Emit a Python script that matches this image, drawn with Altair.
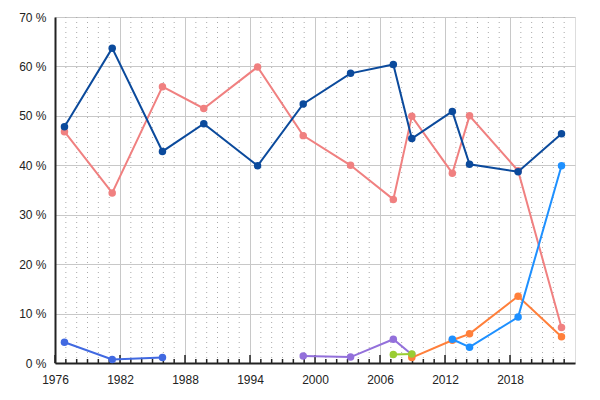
import altair as alt
import pandas as pd

dates = ["1976-11-15", "1981-04-13", "1985-12-02", "1989-09-25", "1994-09-12",
         "1998-11-30", "2003-04-14", "2007-03-26", "2008-12-08", "2012-09-04",
         "2014-04-07", "2018-10-01", "2022-10-03"]

pink_vals = [46.8, 34.4, 55.9, 51.5, 59.9, 46.0, 40.0, 33.1, 49.9, 38.4, 50.0, 38.9, 7.2]
navy_vals = [47.8, 63.7, 42.8, 48.4, 39.9, 52.4, 58.6, 60.4, 45.4, 50.9, 40.2, 38.7, 46.4]
royal_dates = ["1976-11-15", "1981-04-13", "1985-12-02"]
royal_vals = [4.2, 0.7, 1.1]
purple_dates = ["1998-11-30", "2003-04-14", "2007-03-26", "2008-12-08"]
purple_vals = [1.4, 1.2, 4.8, 1.7]
orange_dates = ["2008-12-08", "2012-09-04", "2014-04-07", "2018-10-01", "2022-10-03"]
orange_vals = [1.1, 4.6, 5.9, 13.5, 5.3]
green_dates = ["2007-03-26", "2008-12-08"]
green_vals = [1.7, 1.8]
sky_dates = ["2012-09-04", "2014-04-07", "2018-10-01", "2022-10-03"]
sky_vals = [4.8, 3.2, 9.3, 39.9]

series = [
    ("pink", dates, pink_vals, "#f08080"),
    ("navy", dates, navy_vals, "#0b4a9c"),
    ("royal", royal_dates, royal_vals, "#4169e1"),
    ("purple", purple_dates, purple_vals, "#9370db"),
    ("orange", orange_dates, orange_vals, "#ff7f3a"),
    ("green", green_dates, green_vals, "#9acd32"),
    ("sky", sky_dates, sky_vals, "#1e90ff"),
]

major_years = [1976, 1982, 1988, 1994, 2000, 2006, 2012, 2018]
minor_years = [y for y in range(1977, 2024) if y not in major_years]

W, H = 520, 346
FONT = "Liberation Sans"

xscale = alt.Scale(type="utc", domain=[alt.DateTime(year=1976, month=1, date=1, utc=True),
                                       alt.DateTime(year=2024, month=1, date=1, utc=True)])
yscale = alt.Scale(domain=[0, 70], nice=False)

xaxis = alt.Axis(values=[alt.DateTime(year=y, month=1, date=1, utc=True) for y in major_years],
                 format="%Y", title=None, grid=True, gridColor="#c8c8c8", gridWidth=1,
                 ticks=False, domainColor="#222", domainWidth=2, labelPadding=11,
                 labelFontSize=12, labelColor="#222", labelFont=FONT, labelFlush=False)
yaxis = alt.Axis(values=[0, 10, 20, 30, 40, 50, 60, 70], title=None, grid=True,
                 gridColor="#c8c8c8", gridWidth=1, ticks=False, domainColor="#222",
                 domainWidth=2, labelPadding=9, labelFontSize=12, labelColor="#222",
                 labelFont=FONT, labelExpr="datum.value + ' %'", labelFlush=False)

minor_df = pd.DataFrame({"d": [f"{y}-01-01" for y in minor_years]})
major_df = pd.DataFrame({"d": [f"{y}-01-01" for y in major_years]})

base_axes = alt.Chart(pd.DataFrame({"d": ["1976-01-01"], "v": [0]})).mark_point(opacity=0).encode(
    x=alt.X("d:T", scale=xscale, axis=xaxis),
    y=alt.Y("v:Q", scale=yscale, axis=yaxis),
)

minor_grid = alt.Chart(minor_df).mark_rule(color="#aaaaaa", strokeDash=[1, 4], strokeWidth=1).encode(
    x=alt.X("d:T", scale=xscale)
)

minor_ticks = alt.Chart(minor_df).mark_rule(color="#222", strokeWidth=1.5).encode(
    x=alt.X("d:T", scale=xscale), y=alt.value(H), y2=alt.value(H - 4)
)
major_ticks = alt.Chart(major_df).mark_rule(color="#222", strokeWidth=1.5).encode(
    x=alt.X("d:T", scale=xscale), y=alt.value(H), y2=alt.value(H - 8)
)

layers = [minor_grid, base_axes, minor_ticks, major_ticks]
for name, ds, vs, col in series:
    df = pd.DataFrame({"d": ds, "v": vs})
    enc = dict(x=alt.X("d:T", scale=xscale), y=alt.Y("v:Q", scale=yscale))
    layers.append(alt.Chart(df).mark_line(color=col, strokeWidth=2).encode(**enc))
    layers.append(alt.Chart(df).mark_point(color=col, filled=True, size=56, opacity=1).encode(**enc))

chart = alt.layer(*layers).properties(
    width=W, height=H,
    autosize=alt.AutoSizeParams(type="none"),
    padding={"left": 47, "top": 9, "right": 17, "bottom": 29},
).configure_view(stroke="#222", strokeWidth=2).configure(background="white")

chart.save("out.html", embed_options={"renderer": "svg", "actions": False})
